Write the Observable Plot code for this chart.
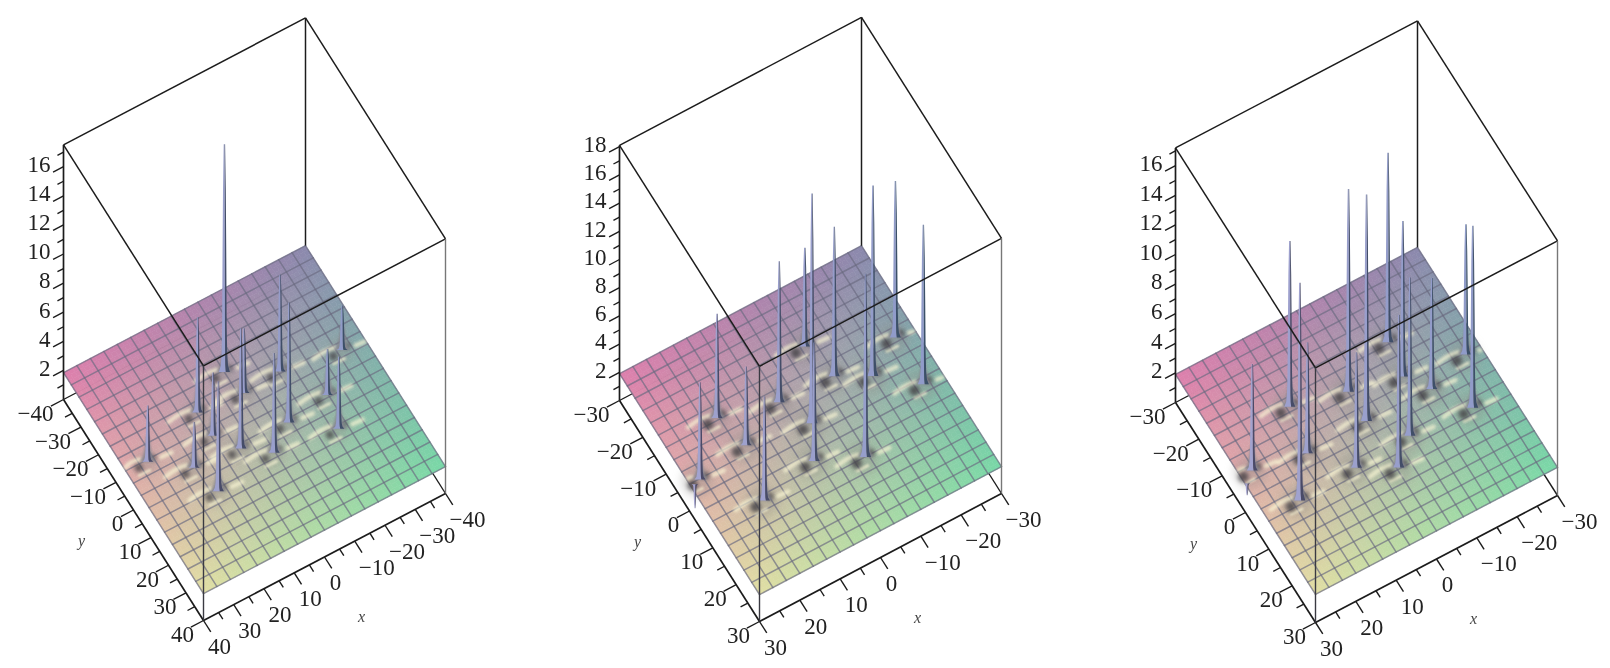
<!DOCTYPE html>
<html><head><meta charset="utf-8">
<style>html,body{margin:0;background:#fff}svg{display:block;filter:blur(0.55px)}</style>
<script src="https://cdn.jsdelivr.net/npm/d3@7"></script>
<script src="https://cdn.jsdelivr.net/npm/@observablehq/plot@0.6"></script>
</head><body><div id="chart"></div>
<script>
// Peak locations (x, y) and peak tops (z)
const peaksX1 = [0,-13.9,-8.1,-32.7,7.9,-1.6,13,0.3,-22,-19.5,12.8,20.2,22.5,33.1];
const peaksY1 = [-17.2,-9.4,5.7,-6.4,5.9,-8.7,-10,11.8,3.7,14.5,-1.5,14.3,4.5,-3.8];
const peaksZ1 = [17.5,8.5,10.1,4.9,10.1,6.3,8.4,8.7,5,6.8,6.2,9.4,5,5.7];

const peaksX2 = [0.1,4.1,-16.8,-25.5,-25.2,-9.6,-7.6,3.7,17.1,14.9,27.5,18,-5.9,29];
const peaksY2 = [0.8,8.7,-2.3,-7.7,4.8,-6.4,-15.6,-7,-10.5,-1.8,0.2,11.4,13.4,0.6];
const peaksZ2 = [18.2,10.3,15.4,13,13.2,12.5,8.9,11.9,9.3,7.5,8.8,9.3,14.9,0.2];

const peaksX3 = [-13.3,-0.1,0,-12,12.6,21.8,-26.3,-21.3,-15.9,-6.3,-0.5,7.4,27.1,14.8,29.6];
const peaksY3 = [-13.8,-7.9,0,-5.2,-11.1,9.1,-2.9,8.7,0.5,7.7,13,8.5,-2.1,0.3,0];
const peaksZ3 = [14.7,15.6,17.2,12.4,13.1,16.6,10.7,14.2,9.4,12.6,12.2,9.7,9.1,9.4,1.1];

const zTicks1 = [2,4,6,8,10,12,14,16];
const zTicks2 = [2,4,6,8,10,12,14,16,18];
const zTicks3 = [2,4,6,8,10,12,14,16];
const xyTicks1 = [-40,-30,-20,-10,0,10,20,30,40];
const xyTicks2 = [-30,-20,-10,0,10,20,30];
const xyTicks3 = [-30,-20,-10,0,10,20,30];

// Oblique view of each box: the screen place of three floor corners and the z scale
const panels = [
  {id:1, span:40, zTop:17.5, zSurf:1.85, pz:14.55, F:[203,620], L:[63,399],  R:[445,493],  X:peaksX1, Y:peaksY1, Z:peaksZ1, zt:zTicks1, xyt:xyTicks1},
  {id:2, span:30, zTop:18.1, zSurf:1.9,  pz:14.1,  F:[759,621], L:[619,400], R:[1001,493], X:peaksX2, Y:peaksY2, Z:peaksZ2, zt:zTicks2, xyt:xyTicks2},
  {id:3, span:30, zTop:17.2, zSurf:1.9,  pz:14.8,  F:[1315,622],L:[1175,402],R:[1557,495], X:peaksX3, Y:peaksY3, Z:peaksZ3, zt:zTicks3, xyt:xyTicks3}
];

// Corner colours of the surface, and stem profile of a peak
const cornerLeft = "#dd7fac", cornerBack = "#8b88ad", cornerRight = "#78d8a7", cornerFront = "#e1dfa4";
const stemFrac = [0,0.03,0.08,0.2,0.5,0.8,1];
const stemHalf = [5.5,3.6,2.8,2.3,1.9,1.4,0.7];
const flareRise = [0,6,14,26];
const flareHalf = [8,4.5,3,1.5];
const cells = 18, sub = 3;

const proj = (p,x,y,z) => {
  const a = (p.span-x)/(2*p.span), b = (p.span-y)/(2*p.span);
  return [p.F[0]+a*(p.R[0]-p.F[0])+b*(p.L[0]-p.F[0]),
          p.F[1]+a*(p.R[1]-p.F[1])+b*(p.L[1]-p.F[1])-z*p.pz];
};
const mix = (c1,c2,t) => d3.interpolateRgb(c1,c2)(t);
const surfColor = (a,b) => mix(mix(cornerFront,cornerRight,a), mix(cornerLeft,cornerBack,a), b);

const quads=[], gridL=[], links=[], axisL=[], ticks=[], labels=[], halos=[], craters=[], streaks=[], streaks2=[], stems=[], flares=[], titles=[];
let qid=0, gid=0, sid=0, tid=0;
const pt = (arr,id,xy,c) => arr.push({id,px:xy[0],py:xy[1],c});
const seg = (arr,p,A,B,s,w) => { const a=proj(p,...A), b=proj(p,...B); arr.push({x1:a[0],y1:a[1],x2:b[0],y2:b[1],s,w}); };

for (const p of panels) {
  const S=p.span, n=cells*sub, zs=p.zSurf, T=p.zTop;
  // surface
  for (let i=0;i<n;i++) for (let j=0;j<n;j++) {
    const x0=S-2*S*i/n, x1=S-2*S*(i+1)/n, y0=S-2*S*j/n, y1=S-2*S*(j+1)/n;
    const c=surfColor((i+.5)/n,(j+.5)/n); qid++;
    [[x0,y0],[x1,y0],[x1,y1],[x0,y1],[x0,y0]].forEach(q=>pt(quads,qid,proj(p,q[0],q[1],zs),c));
  }
  // mesh lines
  for (let k=0;k<=cells;k++) {
    const v=S-2*S*k/cells;
    gid++; pt(gridL,gid,proj(p,v,S,zs)); pt(gridL,gid,proj(p,v,-S,zs));
    gid++; pt(gridL,gid,proj(p,S,v,zs)); pt(gridL,gid,proj(p,-S,v,zs));
  }
  // box
  const dark="#1c1c1c";
  seg(links,p,[S,-S,T],[-S,-S,T],dark,1.5);
  seg(links,p,[-S,-S,T],[-S,S,T],dark,1.5);
  seg(links,p,[-S,S,T],[S,S,T],dark,1.5);
  seg(links,p,[S,S,T],[S,-S,T],dark,1.5);
  seg(links,p,[-S,-S,T],[-S,-S,zs],dark,1.5);
  seg(links,p,[S,-S,T],[S,-S,0],dark,1.7);
  seg(links,p,[S,S,T],[S,S,0],"#3a3a42",1.4);
  seg(links,p,[-S,S,T],[-S,S,0],"#777",1.4);
  seg(axisL,p,[S,S,0],[S,-S,0],dark,1.7);
  seg(axisL,p,[S,S,0],[-S,S,0],dark,1.7);
  seg(axisL,p,[S,-S,0],[-S,-S,0],dark,1.4);
  seg(axisL,p,[-S,S,0],[-S,-S,0],dark,1.4);
  // ticks and labels
  for (let v=-S;v<=S;v+=5) {
    const major=v%10===0, f=(major?0.052:0.03)*2*S;
    seg(ticks,p,[v,S,0],[v,S+f,0],dark,1.4);
    seg(ticks,p,[S,v,0],[S+f,v,0],dark,1.4);
  }
  for (let z=1;z<T;z++) {
    const major=z%2===0, f=(major?0.043:0.025)*2*S;
    seg(ticks,p,[S,-S,z],[S+f,-S,z],dark,1.4);
  }
  const fmt=v=>v<0?"\u2212"+(-v):String(v);
  for (const v of p.xyt) {
    const q=proj(p,v,S,0), r=proj(p,S,v,0);
    labels.push({px:q[0]+(v<0?22:v===0?11:16),py:q[1]+26,t:fmt(v),a:"middle"});
    labels.push({px:r[0]+(v<0?-28:v===0?-16:-21),py:r[1]+14,t:fmt(v),a:"middle"});
  }
  for (const z of p.zt) {
    const q=proj(p,S,-S,z);
    labels.push({px:q[0]-13,py:q[1]-2,t:String(z),a:"end"});
  }
  const mx=proj(p,0,S,0), my=proj(p,S,0,0);
  titles.push({px:mx[0]+37,py:mx[1]+60,t:"x"},{px:my[0]-52,py:my[1]+31,t:"y"});
  // peaks
  const k=S/30, rs=30/S;
  const order=d3.range(p.X.length).sort((i,j)=>proj(p,p.X[i],p.Y[i],0)[1]-proj(p,p.X[j],p.Y[j],0)[1]);
  for (const i of order) {
    const x=p.X[i], y=p.Y[i], top=p.Z[i];
    const cl=v=>Math.max(-S+.5,Math.min(S-.5,v));
    const b=proj(p,x,y,zs), neg=top<zs;
    if (!neg) {
      const h=proj(p,cl(x+0.6*k),y,zs); halos.push({px:h[0],py:h[1],r:16*rs});
      const c1=proj(p,cl(x+2.4*k),cl(y+0.3*k),zs); craters.push({px:c1[0],py:c1[1],r:5.2*rs});
      const c2=proj(p,cl(x-1.5*k),cl(y-0.3*k),zs); craters.push({px:c2[0],py:c2[1],r:3.6*rs});
      sid++; pt(streaks,sid,proj(p,cl(x+6.5*k),cl(y-1.2*k),zs)); pt(streaks,sid,proj(p,cl(x+3.4*k),cl(y-1.6*k),zs)); pt(streaks,sid,proj(p,cl(x+1.2*k),cl(y-1.3*k),zs));
      sid++; pt(streaks,sid,proj(p,cl(x-3*k),cl(y+0.5*k),zs)); pt(streaks,sid,proj(p,cl(x-5.5*k),cl(y+0.7*k),zs));
      sid++; pt(streaks2,sid,proj(p,cl(x+3.2*k),cl(y+1.9*k),zs)); pt(streaks2,sid,proj(p,cl(x+0.6*k),cl(y+2*k),zs));
      const fl=[], fr=[];
      flareRise.forEach((r,q)=>{ fl.push([b[0]-flareHalf[q],b[1]-r]); fr.push([b[0]+flareHalf[q],b[1]-r]); });
      tid++; [...fl,...fr.reverse(),fl[0]].forEach(q=>pt(flares,tid,q));
    }
    const sideL=[], sideR=[], mid=[];
    stemFrac.forEach((f,q)=>{
      const yy=b[1]-f*(top-zs)*p.pz, hw=neg?stemHalf[q]*0.6:stemHalf[q];
      sideL.push([b[0]-hw,yy]); sideR.push([b[0]+hw,yy]); mid.push([b[0]+hw*0.25,yy]);
    });
    const lit=mix("#a3a3cf","#8e9ac8",(S-x)/(2*S)), shade=mix("#4c4a68","#3a5068",(S-x)/(2*S));
    tid++; [...sideL,...mid.slice().reverse(),sideL[0]].forEach(q=>pt(stems,tid,q,lit));
    tid++; [...mid,...sideR.slice().reverse(),mid[0]].forEach(q=>pt(stems,tid,q,shade));
  }
}

const chart = Plot.plot({
  width:1610, height:668, margin:0,
  x:{type:"identity",axis:null}, y:{type:"identity",axis:null}, color:{type:"identity"}, r:{type:"identity"},
  marks:[
    Plot.link(axisL,{x1:"x1",y1:"y1",x2:"x2",y2:"y2",stroke:"s",strokeWidth:"w"}),
    Plot.line(quads,{x:"px",y:"py",z:"id",fill:"c",stroke:"c",strokeWidth:0.6}),
    Plot.dot(halos,{x:"px",y:"py",r:"r",fill:"#8c8a88",fillOpacity:0.34,stroke:"none",imageFilter:"blur(5px)"}),
    Plot.line(gridL,{x:"px",y:"py",z:"id",stroke:"#6a6a80",strokeOpacity:0.68,strokeWidth:1.5}),
    Plot.line(streaks,{x:"px",y:"py",z:"id",stroke:"#fbf7d6",strokeOpacity:0.72,strokeWidth:4.4,strokeLinecap:"round",curve:"catmull-rom",imageFilter:"blur(1.5px)"}),
    Plot.line(streaks2,{x:"px",y:"py",z:"id",stroke:"#fbf7d6",strokeOpacity:0.7,strokeWidth:3,strokeLinecap:"round",imageFilter:"blur(1.2px)"}),
    Plot.dot(craters,{x:"px",y:"py",r:"r",fill:"#454246",fillOpacity:0.8,stroke:"none",imageFilter:"blur(2.2px)"}),
    Plot.line(flares,{x:"px",y:"py",z:"id",fill:"#85858f",stroke:"none",fillOpacity:0.85,imageFilter:"blur(1px)"}),
    Plot.line(stems,{x:"px",y:"py",z:"id",fill:"c",stroke:"none"}),
    Plot.link(links,{x1:"x1",y1:"y1",x2:"x2",y2:"y2",stroke:"s",strokeWidth:"w"}),
    Plot.link(ticks,{x1:"x1",y1:"y1",x2:"x2",y2:"y2",stroke:"s",strokeWidth:"w"}),
    Plot.text(labels.filter(d=>d.a==="middle"),{x:"px",y:"py",text:"t",textAnchor:"middle",fontFamily:"Liberation Serif",fontSize:23,fill:"#222"}),
    Plot.text(labels.filter(d=>d.a==="end"),{x:"px",y:"py",text:"t",textAnchor:"end",fontFamily:"Liberation Serif",fontSize:23,fill:"#222"}),
    Plot.text(titles,{x:"px",y:"py",text:"t",fontFamily:"Liberation Serif",fontStyle:"italic",fontSize:16,fill:"#444"})
  ]
});
document.getElementById("chart").append(chart);
</script></body></html>
